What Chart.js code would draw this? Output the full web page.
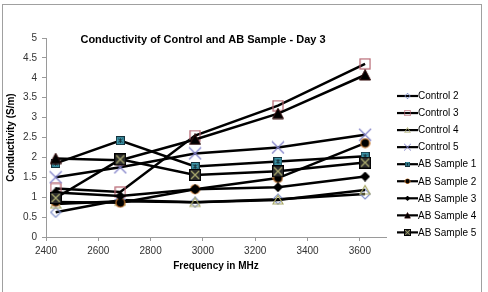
<!DOCTYPE html>
<html>
<head>
<meta charset="utf-8">
<script src="https://cdn.jsdelivr.net/npm/chart.js@4"></script>
<style>
  body { margin: 0; background: #fff; }
  #wrap { position: relative; width: 488px; height: 292px; overflow: hidden; }
  #frame { position: absolute; left: 2px; top: 4px; width: 478px; height: 300px; border: 1px solid #a0a0a0; }
  canvas { position: absolute; left: 0; top: 0; }
</style>
</head>
<body>
<div id="wrap"><div id="frame"></div><canvas id="chart" width="488" height="292"></canvas></div>
<script>
// frequency (MHz) of each measurement
const freqs = [2437, 2684, 2970, 3287, 3620];

// conductivity (S/m)
const control2 = [0.62, 0.93, 0.87, 0.95, 1.08];
const control3 = [1.22, 1.13, 2.55, 3.3, 4.35];
const control4 = [0.83, 0.9, 0.87, 0.93, 1.18];
const control5 = [1.5, 1.75, 2.1, 2.25, 2.57];
const abSample1 = [1.85, 2.42, 1.77, 1.9, 2.03];
const abSample2 = [0.88, 0.86, 1.2, 1.48, 2.36];
const abSample3 = [1.12, 1.03, 1.2, 1.25, 1.52];
const abSample4 = [1.97, 1.93, 2.45, 3.1, 4.07];
const abSample5 = [0.98, 1.95, 1.56, 1.65, 1.87];

const seriesNames = ['Control 2', 'Control 3', 'Control 4', 'Control 5',
  'AB Sample 1', 'AB Sample 2', 'AB Sample 3', 'AB Sample 4', 'AB Sample 5'];
const seriesValues = [control2, control3, control4, control5,
  abSample1, abSample2, abSample3, abSample4, abSample5];

const xTicks = [2400, 2600, 2800, 3000, 3200, 3400, 3600];
const yTicks = [0, 0.5, 1, 1.5, 2, 2.5, 3, 3.5, 4, 4.5, 5];

const FONT = '"Liberation Sans", Arial, sans-serif';

// marker images, excel style
function mk(size, fn) {
  const c = document.createElement('canvas');
  c.width = c.height = size;
  fn(c.getContext('2d'), size / 2, size);
  return c;
}
const markers = [
  mk(12, (g, c, s) => { // open diamond
    g.strokeStyle = '#7f8fc8'; g.lineWidth = 1.2;
    g.beginPath(); g.moveTo(c, 1); g.lineTo(s - 1, c); g.lineTo(c, s - 1); g.lineTo(1, c); g.closePath(); g.stroke();
  }),
  mk(12, (g, c, s) => { // open square
    g.strokeStyle = '#b5636f'; g.lineWidth = 1.2;
    g.strokeRect(1, 1, s - 2, s - 2);
  }),
  mk(12, (g, c, s) => { // open triangle
    g.strokeStyle = '#a8a866'; g.lineWidth = 1.2;
    g.beginPath(); g.moveTo(c, 1.5); g.lineTo(s - 1, s - 2); g.lineTo(1, s - 2); g.closePath(); g.stroke();
  }),
  mk(14, (g, c, s) => { // x
    g.strokeStyle = '#7f7fc8'; g.lineWidth = 1.2;
    g.beginPath(); g.moveTo(1, 1); g.lineTo(s - 1, s - 1); g.moveTo(s - 1, 1); g.lineTo(1, s - 1); g.stroke();
  }),
  mk(9, (g, c, s) => { // teal square with asterisk
    g.fillStyle = '#3f9bae'; g.fillRect(0.5, 0.5, s - 1, s - 1);
    g.strokeStyle = '#14303a'; g.lineWidth = 1; g.strokeRect(0.5, 0.5, s - 1, s - 1);
    g.beginPath(); g.moveTo(c, 2); g.lineTo(c, s - 2); g.moveTo(2, 2.5); g.lineTo(s - 2, s - 2.5); g.moveTo(s - 2, 2.5); g.lineTo(2, s - 2.5); g.stroke();
  }),
  mk(11, (g, c, s) => { // black circle, orange rim
    g.fillStyle = '#000'; g.strokeStyle = '#c8772e'; g.lineWidth = 1.2;
    g.beginPath(); g.arc(c, c, c - 1, 0, Math.PI * 2); g.fill(); g.stroke();
  }),
  mk(10, (g, c, s) => { // black diamond
    g.fillStyle = '#000';
    g.beginPath(); g.moveTo(c, 0); g.lineTo(s, c); g.lineTo(c, s); g.lineTo(0, c); g.closePath(); g.fill();
  }),
  mk(12, (g, c, s) => { // black triangle
    g.fillStyle = '#000'; g.strokeStyle = '#3a1010'; g.lineWidth = 1;
    g.beginPath(); g.moveTo(c, 0.5); g.lineTo(s - 0.5, s - 1); g.lineTo(0.5, s - 1); g.closePath(); g.fill(); g.stroke();
  }),
  mk(12, (g, c, s) => { // dark square with x
    g.fillStyle = '#2b2b2b'; g.fillRect(0.5, 0.5, s - 1, s - 1);
    g.strokeStyle = '#000'; g.lineWidth = 1; g.strokeRect(0.5, 0.5, s - 1, s - 1);
    g.strokeStyle = '#a9a96e'; g.lineWidth = 1.3;
    g.beginPath(); g.moveTo(2, 2); g.lineTo(s - 2, s - 2); g.moveTo(s - 2, 2); g.lineTo(2, s - 2); g.stroke();
  })
];

const datasets = seriesNames.map((name, i) => ({
  label: name,
  data: freqs.map((f, j) => ({ x: f, y: seriesValues[i][j] })),
  borderColor: '#000',
  borderWidth: 2.5,
  tension: 0,
  pointStyle: markers[i],
  pointRadius: 6,
  order: seriesNames.length - i
}));

const titlePlugin = {
  id: 'inTitle',
  afterDraw(chart) {
    const ctx = chart.ctx;
    ctx.save();
    ctx.font = 'bold 11px ' + FONT;
    ctx.fillStyle = '#000';
    ctx.textAlign = 'center';
    ctx.textBaseline = 'middle';
    ctx.fillText('Conductivity of Control and AB Sample - Day 3', 203, 40);
    ctx.restore();
  }
};

const legendPlugin = {
  id: 'sideLegend',
  afterDraw(chart) {
    const ctx = chart.ctx;
    ctx.save();
    ctx.font = '10px ' + FONT;
    ctx.textBaseline = 'middle';
    ctx.fillStyle = '#000';
    seriesNames.forEach((name, i) => {
      const y = 96 + i * 17.05;
      ctx.strokeStyle = '#000';
      ctx.lineWidth = 2.2;
      ctx.beginPath(); ctx.moveTo(397, y); ctx.lineTo(418, y); ctx.stroke();
      const m = markers[i];
      const w = m.width * 0.55;
      ctx.drawImage(m, 407.5 - w / 2, y - w / 2, w, w);
      ctx.fillText(name, 418, y + 0.5);
    });
    ctx.restore();
  }
};

new Chart(document.getElementById('chart'), {
  type: 'line',
  data: { datasets: datasets },
  plugins: [titlePlugin, legendPlugin],
  options: {
    responsive: false,
    animation: false,
    devicePixelRatio: 1,
    layout: { padding: { left: 2, right: 102, top: 38, bottom: 18 } },
    plugins: {
      legend: { display: false },
      title: { display: false },
      tooltip: { enabled: false }
    },
    scales: {
      x: {
        type: 'linear',
        min: 2400,
        max: 3700,
        afterBuildTicks: s => { s.ticks = xTicks.map(v => ({ value: v })); },
        afterFit: s => { s.height = 37; },
        ticks: { font: { family: FONT, size: 10 }, color: '#333', padding: 4, maxRotation: 0,
          callback: v => String(v) },
        grid: { drawOnChartArea: false, tickLength: 4, color: '#9a9a9a' },
        border: { color: '#9a9a9a' },
        title: { display: true, text: 'Frequency in MHz', color: '#000',
          font: { family: FONT, size: 10, weight: 'bold' }, padding: { top: 2, bottom: 2 } }
      },
      y: {
        min: 0,
        max: 5,
        afterBuildTicks: s => { s.ticks = yTicks.map(v => ({ value: v })); },
        afterFit: s => { s.width = 44; },
        ticks: { font: { family: FONT, size: 10 }, color: '#333', padding: 5,
          callback: v => String(v) },
        grid: { drawOnChartArea: false, tickLength: 4, color: '#9a9a9a' },
        border: { color: '#9a9a9a' },
        title: { display: true, text: 'Conductivity (S/m)', color: '#000',
          font: { family: FONT, size: 10, weight: 'bold' }, padding: { top: 3, bottom: 0 } }
      }
    }
  }
});
</script>
</body>
</html>
